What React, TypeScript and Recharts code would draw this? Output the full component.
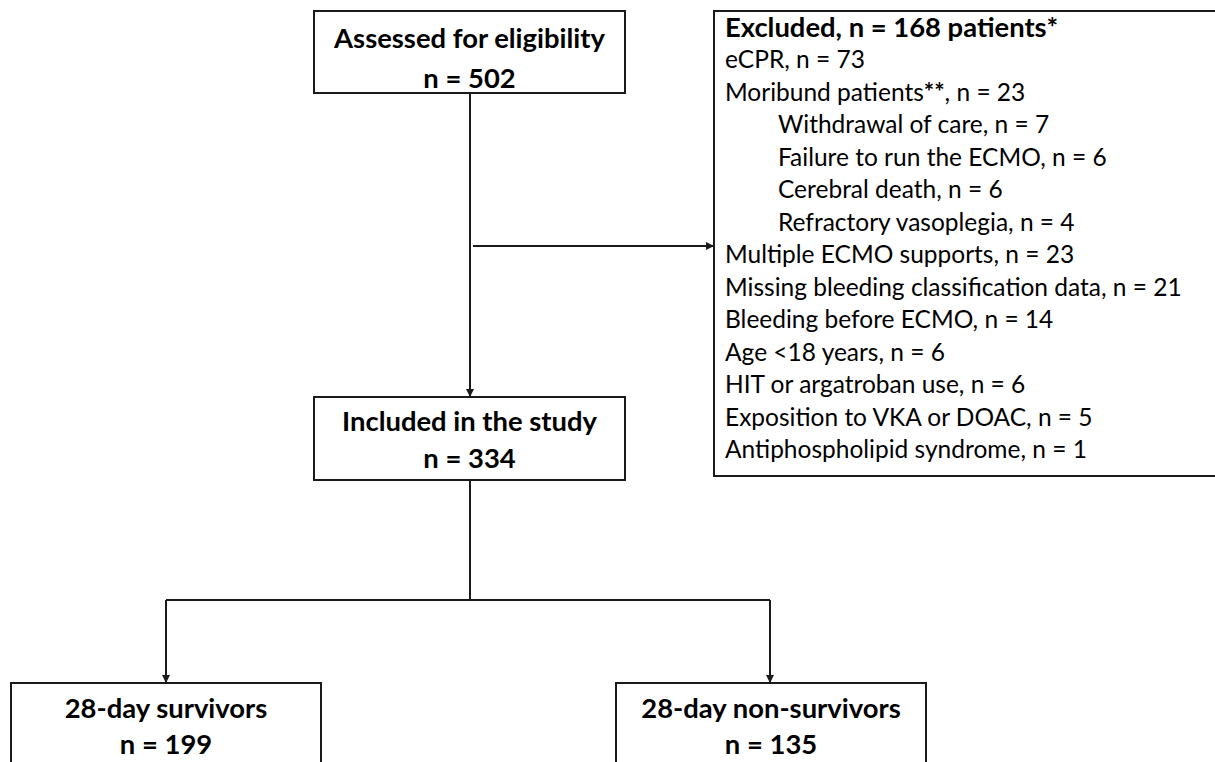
import React from "react";
import { ScatterChart, Scatter, XAxis, YAxis, ReferenceArea, ReferenceLine } from "recharts";

// ---------- data ----------
const boxTitles = ["Assessed for eligibility", "Included in the study", "28-day survivors", "28-day non-survivors"];
const boxCounts = [502, 334, 199, 135];
const excludedTotal = 168;
const exclusionReasons = [
  "eCPR",
  "Moribund patients",
  "Withdrawal of care",
  "Failure to run the ECMO",
  "Cerebral death",
  "Refractory vasoplegia",
  "Multiple ECMO supports",
  "Missing bleeding classification data",
  "Bleeding before ECMO",
  "Age <18 years",
  "HIT or argatroban use",
  "Exposition to VKA or DOAC",
  "Antiphospholipid syndrome",
];
const exclusionCounts = [73, 23, 7, 6, 6, 4, 23, 21, 14, 6, 6, 5, 1];
const exclusionLevel = [0, 0, 1, 1, 1, 1, 0, 0, 0, 0, 0, 0, 0];
const exclusionFootnote = ["", "**", "", "", "", "", "", "", "", "", "", "", ""];

// ---------- layout ----------
const W = 1215;
const H = 762;
const FONT = "Lato, 'Open Sans', sans-serif";
const STROKE = "#1a1a1a";

const boxGeom = [
  { x1: 314, x2: 625, y1: 11, y2: 93, l1: 48, l2: 88 },
  { x1: 314, x2: 625, y1: 397, y2: 480, l1: 431, l2: 468 },
  { x1: 11, x2: 321, y1: 683, y2: 790, l1: 718, l2: 754 },
  { x1: 616, x2: 926, y1: 683, y2: 790, l1: 718, l2: 754 },
];
const exclBox = { x1: 714, x2: 1240, y1: 11, y2: 476 };
const exclTextX = 725;
const exclIndent = 53;
const exclTitleY = 37;
const exclFirstY = 68;
const exclStep = 32.5;

const segments = [
  [{ x: 470, y: 93 }, { x: 470, y: 397 }],
  [{ x: 473, y: 246 }, { x: 714, y: 246 }],
  [{ x: 470, y: 480 }, { x: 470, y: 600 }],
  [{ x: 166, y: 600 }, { x: 770, y: 600 }],
  [{ x: 166, y: 600 }, { x: 166, y: 683 }],
  [{ x: 770, y: 600 }, { x: 770, y: 683 }],
];
const arrowTips = [
  { x: 470, y: 397, dir: "down" },
  { x: 714, y: 246, dir: "right" },
  { x: 166, y: 683, dir: "down" },
  { x: 770, y: 683, dir: "down" },
];

// ---------- tables built for the library ----------
const boxLabelRows = boxTitles.flatMap((t, i) => {
  const g = boxGeom[i];
  const cx = (g.x1 + g.x2) / 2;
  return [
    { x: cx, y: g.l1, kind: "boxTitle", text: t },
    { x: cx, y: g.l2, kind: "boxTitle", text: `n = ${boxCounts[i]}` },
  ];
});

const exclRows = [
  { x: exclTextX, y: exclTitleY, kind: "exclTitle", text: `Excluded, n = ${excludedTotal} patients*`, foot: "", count: null },
  ...exclusionReasons.map((r, i) => ({
    x: exclTextX + exclusionLevel[i] * exclIndent,
    y: exclFirstY + i * exclStep,
    kind: "reason",
    text: r,
    foot: exclusionFootnote[i],
    count: exclusionCounts[i],
  })),
];

const TextShape = (props: any) => {
  const { cx, cy, payload } = props;
  if (payload.kind === "boxTitle") {
    return (
      <text x={cx} y={cy} textAnchor="middle" fontFamily={FONT} fontWeight={700} fontSize={27.4} fill="#000">
        {payload.text}
      </text>
    );
  }
  if (payload.kind === "exclTitle") {
    return (
      <text x={cx} y={cy} textAnchor="start" fontFamily={FONT} fontWeight={700} fontSize={27.4} fill="#000">
        {payload.text}
      </text>
    );
  }
  return (
    <text x={cx} y={cy} textAnchor="start" fontFamily={FONT} fontWeight={400} fontSize={24.5} fill="#000">
      <tspan>{payload.text}</tspan>
      {payload.foot ? <tspan fontWeight={700}>{payload.foot}</tspan> : null}
      <tspan>{`, n = ${payload.count}`}</tspan>
    </text>
  );
};

const ArrowShape = (props: any) => {
  const { cx, cy, payload } = props;
  const s = 8;
  const h = 4;
  const pts =
    payload.dir === "down"
      ? `${cx},${cy} ${cx - h},${cy - s} ${cx + h},${cy - s}`
      : `${cx},${cy} ${cx - s},${cy - h} ${cx - s},${cy + h}`;
  return <polygon points={pts} fill={STROKE} />;
};

export default function App() {
  return (
    <div style={{ position: "absolute", left: 0, top: 0, width: W, height: H, background: "#fff" }}>
      <ScatterChart width={W} height={H} margin={{ top: 0, right: 0, bottom: 0, left: 0 }}>
        <XAxis type="number" dataKey="x" domain={[0, W]} hide allowDataOverflow />
        <YAxis type="number" dataKey="y" domain={[0, H]} reversed hide allowDataOverflow />
        {segments.map((seg, i) => (
          <ReferenceLine key={`s${i}`} segment={seg} stroke={STROKE} strokeWidth={2} ifOverflow="visible" />
        ))}
        {boxGeom.map((g, i) => (
          <ReferenceArea
            key={`b${i}`}
            x1={g.x1}
            x2={g.x2}
            y1={g.y1}
            y2={g.y2}
            fill="#fff"
            fillOpacity={1}
            stroke={STROKE}
            strokeWidth={2}
            ifOverflow="visible"
          />
        ))}
        <ReferenceArea
          x1={exclBox.x1}
          x2={exclBox.x2}
          y1={exclBox.y1}
          y2={exclBox.y2}
          fill="#fff"
          fillOpacity={1}
          stroke={STROKE}
          strokeWidth={2}
          ifOverflow="visible"
        />
        <Scatter data={arrowTips} shape={ArrowShape} isAnimationActive={false} />
        <Scatter data={boxLabelRows} shape={TextShape} isAnimationActive={false} />
        <Scatter data={exclRows} shape={TextShape} isAnimationActive={false} />
      </ScatterChart>
    </div>
  );
}
